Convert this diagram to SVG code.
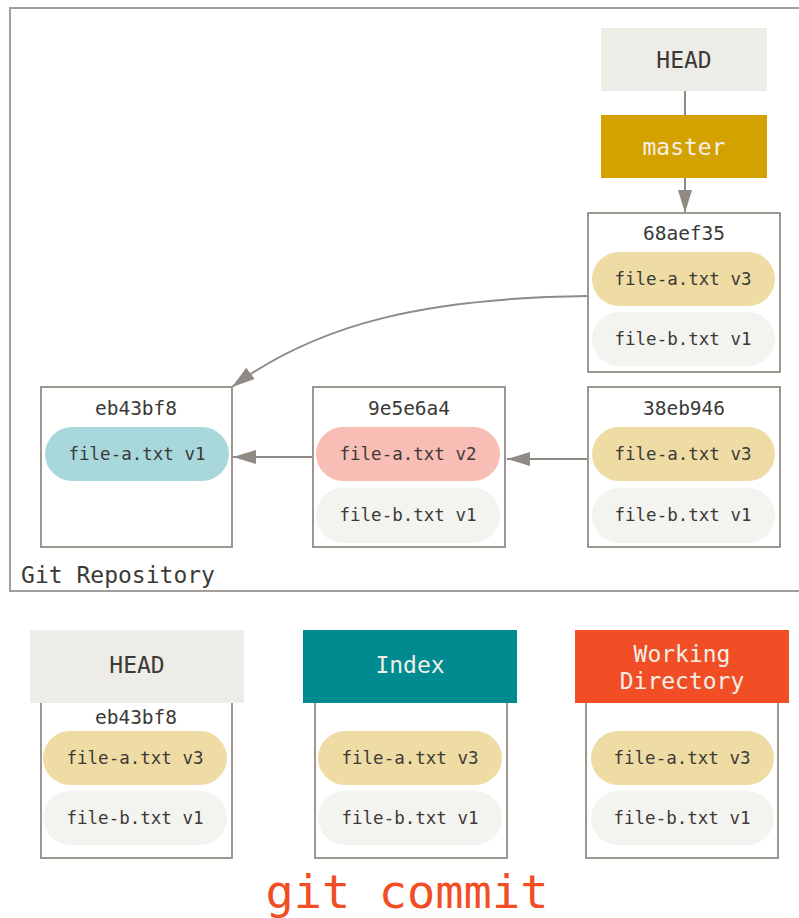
<svg xmlns="http://www.w3.org/2000/svg" width="799" height="918" viewBox="0 0 799 918">
<defs>
<style>
text{font-family:"DejaVu Sans Mono","Liberation Mono",monospace;text-anchor:middle;dominant-baseline:central;fill:#3b3a37}
.box{fill:#fff;stroke:#9e9790;stroke-width:2}
.body{fill:none;stroke:#9e9790;stroke-width:2}
.pill-y{fill:#eedca4}
.pill-g{fill:#f3f3ef}
.pill-b{fill:#a8d8dc}
.pill-r{fill:#f8bdb4}
.file{font-size:17.5px}
.hash{font-size:19.5px}
.big{font-size:23px}
.light{fill:#f3efe8}
.conn{fill:none;stroke:#8f8a84;stroke-width:2}
</style>
<marker id="arr" markerUnits="userSpaceOnUse" markerWidth="24" markerHeight="14" refX="23" refY="7" orient="auto">
<path d="M0,0 L23,7 L0,14 z" fill="#8f8a84"/>
</marker>
</defs>
<rect width="799" height="918" fill="#fff"/>

<g id="repo">
<rect x="10" y="8" width="800" height="583" fill="none" stroke="#a49e98" stroke-width="2"/>
<text x="118" y="575" class="big">Git Repository</text>
</g>

<g id="connectors">
<line x1="685" y1="91" x2="685" y2="115" class="conn"/>
<line x1="685" y1="178" x2="685" y2="213" class="conn" marker-end="url(#arr)"/>
<path d="M588,296 C430,298 320,322 232,387" class="conn" marker-end="url(#arr)"/>
<line x1="588" y1="459" x2="507" y2="459" class="conn" marker-end="url(#arr)"/>
<line x1="313" y1="457" x2="233" y2="457" class="conn" marker-end="url(#arr)"/>
</g>

<g id="head-top">
<rect x="601" y="28" width="166" height="63" fill="#eeece6"/>
<text x="684" y="60" class="big">HEAD</text>
</g>

<g id="master">
<rect x="601" y="115" width="166" height="63" fill="#d3a100"/>
<text x="684" y="147" class="big light">master</text>
</g>

<g id="c-68aef35">
<rect x="588" y="213" width="192" height="159" class="box"/>
<text x="684" y="233" class="hash">68aef35</text>
<rect x="592" y="252" width="183" height="54" rx="27" class="pill-y"/>
<text x="683" y="279" class="file">file-a.txt v3</text>
<rect x="592" y="312" width="183" height="54" rx="27" class="pill-g"/>
<text x="683" y="339" class="file">file-b.txt v1</text>
</g>

<g id="c-eb43bf8">
<rect x="41" y="387" width="191" height="160" class="box"/>
<text x="136" y="408" class="hash">eb43bf8</text>
<rect x="45" y="427" width="184" height="54" rx="27" class="pill-b"/>
<text x="137" y="454" class="file">file-a.txt v1</text>
</g>

<g id="c-9e5e6a4">
<rect x="313" y="387" width="192" height="160" class="box"/>
<text x="409" y="408" class="hash">9e5e6a4</text>
<rect x="316" y="427" width="184" height="54" rx="27" class="pill-r"/>
<text x="408" y="454" class="file">file-a.txt v2</text>
<rect x="316" y="488" width="184" height="55" rx="27" class="pill-g"/>
<text x="408" y="515" class="file">file-b.txt v1</text>
</g>

<g id="c-38eb946">
<rect x="588" y="387" width="192" height="160" class="box"/>
<text x="684" y="408" class="hash">38eb946</text>
<rect x="592" y="427" width="183" height="54" rx="27" class="pill-y"/>
<text x="683" y="454" class="file">file-a.txt v3</text>
<rect x="592" y="488" width="183" height="55" rx="27" class="pill-g"/>
<text x="683" y="515" class="file">file-b.txt v1</text>
</g>

<g id="head-area">
<path d="M41,703 V858 H232 V703" class="body"/>
<rect x="30" y="630" width="214" height="73" fill="#eeece6"/>
<text x="137" y="665" class="big">HEAD</text>
<text x="136" y="717" class="hash">eb43bf8</text>
<rect x="43" y="731" width="184" height="54" rx="27" class="pill-y"/>
<text x="135" y="758" class="file">file-a.txt v3</text>
<rect x="43" y="791" width="184" height="54" rx="27" class="pill-g"/>
<text x="135" y="818" class="file">file-b.txt v1</text>
</g>

<g id="index-area">
<path d="M315,703 V858 H507 V703" class="body"/>
<rect x="303" y="630" width="214" height="73" fill="#008b91"/>
<text x="410" y="665" class="big light">Index</text>
<rect x="318" y="731" width="184" height="54" rx="27" class="pill-y"/>
<text x="410" y="758" class="file">file-a.txt v3</text>
<rect x="318" y="791" width="184" height="54" rx="27" class="pill-g"/>
<text x="410" y="818" class="file">file-b.txt v1</text>
</g>

<g id="wd-area">
<path d="M586,703 V858 H778 V703" class="body"/>
<rect x="575" y="630" width="214" height="73" fill="#f14e25"/>
<text x="682" y="654" class="big light">Working</text>
<text x="682" y="681" class="big light">Directory</text>
<rect x="591" y="731" width="183" height="54" rx="27" class="pill-y"/>
<text x="682" y="758" class="file">file-a.txt v3</text>
<rect x="591" y="791" width="183" height="54" rx="27" class="pill-g"/>
<text x="682" y="818" class="file">file-b.txt v1</text>
</g>

<g id="caption">
<text x="407" y="908" style="font-size:47px;fill:#f14e25;dominant-baseline:alphabetic">git commit</text>
</g>
</svg>
